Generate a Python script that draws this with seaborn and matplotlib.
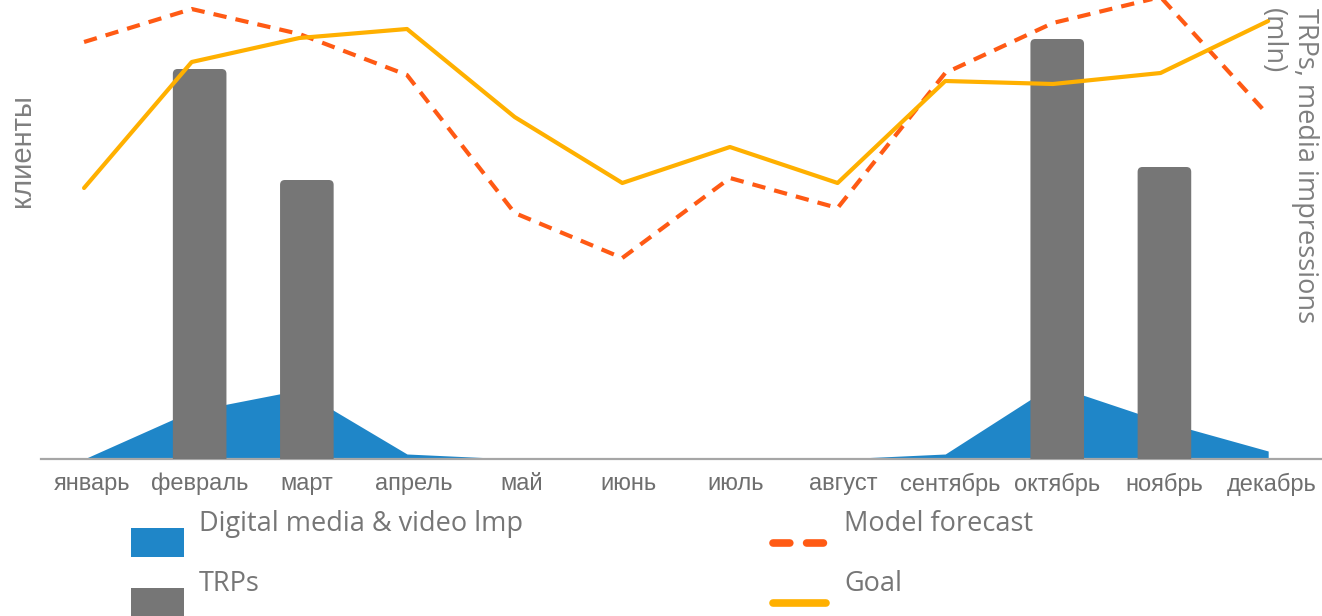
import numpy as np
import pandas as pd
import matplotlib
matplotlib.use("Agg")
import matplotlib.pyplot as plt
from matplotlib.patches import Rectangle, FancyBboxPatch
from matplotlib.lines import Line2D
import seaborn as sns

# ---------------- data ----------------
months = ["январь", "февраль", "март", "апрель", "май", "июнь",
          "июль", "август", "сентябрь", "октябрь", "ноябрь", "декабрь"]
goal = [271, 397, 421, 430, 342, 276, 312, 276, 378, 375, 386, 438]
model_forecast = [417, 450, 425, 384, 246, 201, 281, 251, 386, 436, 462, 344]
trps = [0, 390, 279, 0, 0, 0, 0, 0, 0, 420, 292, 0]
digital_imp = [0, 48, 69, 5, 0, 0, 0, 0, 5, 74, 38, 8]

legend_labels = ["Digital media & video lmp", "TRPs", "Model forecast", "Goal"]
left_label = "клиенты"
right_label = "TRPs, media impressions\n(mln)"

# ---------------- style ----------------
C_BLUE = "#1F86C8"
C_GRAY = "#767676"
C_ORANGE = "#FF5A14"
C_YELLOW = "#FFB000"
C_TEXT = "#7F7F7F"
C_TICK = "#6F6F6F"

sns.set_theme(style="white")
plt.rcParams["font.family"] = ["Liberation Sans", "DejaVu Sans"]

W, H = 1322, 616
fig = plt.figure(figsize=(W / 100, H / 100), dpi=100)


def fx(x):
    return x / W


def fy(y):
    return 1 - y / H


rect = [fx(41), fy(459), (W - 41) / W, 459 / H]
ax_area = fig.add_axes(rect)
ax_bar = fig.add_axes(rect)
ax_line = fig.add_axes(rect)

df = pd.DataFrame({"month": months, "trps": trps, "digital": digital_imp,
                   "goal": goal, "forecast": model_forecast})
xpos = np.arange(len(months))

LINE_XLIM = (-0.4, 11.5)
BAR_XLIM = (-0.48, 11.47)

# area (media impressions)
ax_area.fill_between(xpos, 0, df["digital"], color=C_BLUE, lw=0)
ax_area.set_xlim(*LINE_XLIM)
ax_area.set_ylim(0, 459)
ax_area.set_xticks([])
ax_area.set_yticks([])
for s in ["top", "left", "right"]:
    ax_area.spines[s].set_visible(False)
ax_area.spines["bottom"].set_color("#A6A6A6")
ax_area.spines["bottom"].set_linewidth(1.6)

# bars (TRPs) with slightly rounded tops
sns.barplot(data=df, x="month", y="trps", color=C_GRAY, width=0.5,
            saturation=1, ax=ax_bar, linewidth=0)
ax_bar.set_xlim(*BAR_XLIM)
ax_bar.set_ylim(0, 459)
ax_bar.patch.set_alpha(0)
px_per_x = (W - 41) / (BAR_XLIM[1] - BAR_XLIM[0])
for p in list(ax_bar.patches):
    h = p.get_height()
    if h <= 0:
        p.remove()
        continue
    x0, w = p.get_x(), p.get_width()
    p.remove()
    ax_bar.add_patch(FancyBboxPatch((x0, -8), w, h + 8,
                                    boxstyle="round,pad=0,rounding_size=0.045",
                                    mutation_aspect=px_per_x,
                                    fc=C_GRAY, ec="none", lw=0))
ax_bar.set_xlabel("")
ax_bar.set_ylabel("")
ax_bar.set_yticks([])
ax_bar.set_xticks(xpos)
ax_bar.set_xticklabels(months, fontsize=17, color=C_TICK)
ax_bar.tick_params(axis="x", length=0, pad=10)
for s in ax_bar.spines.values():
    s.set_visible(False)

# lines (клиенты)
sns.lineplot(x=xpos, y=df["forecast"], ax=ax_line, color=C_ORANGE, lw=3)
ax_line.lines[-1].set_dashes((3.2, 2.2))
sns.lineplot(x=xpos, y=df["goal"], ax=ax_line, color=C_YELLOW, lw=3)
ax_line.set_xlim(*LINE_XLIM)
ax_line.set_ylim(0, 459)
ax_line.patch.set_alpha(0)
ax_line.set_xticks([])
ax_line.set_yticks([])
ax_line.set_ylabel("")
ax_line.set_xlabel("")
for s in ax_line.spines.values():
    s.set_visible(False)

# axis titles
fig.text(fx(22), fy(151), left_label, rotation=90, ha="center", va="center",
         fontsize=21, color=C_TEXT)
fig.text(fx(1319), fy(8), right_label, rotation=270, ha="right", va="top",
         multialignment="left", linespacing=1.2, fontsize=19.5, color=C_TEXT,
         family=["Open Sans", "DejaVu Sans"])

# legend (manual, two columns, label above marker)
fig.add_artist(Rectangle((fx(131), fy(557)), 53 / W, 29 / H,
                         transform=fig.transFigure, color=C_BLUE, lw=0))
fig.add_artist(Rectangle((fx(131), fy(616)), 53 / W, 28 / H,
                         transform=fig.transFigure, color=C_GRAY, lw=0))
l1 = Line2D([fx(773), fx(826)], [fy(543), fy(543)], transform=fig.transFigure,
            color=C_ORANGE, lw=5.5)
l1.set_dashes((2.2, 2.2))
l1.set_dash_capstyle("round")
fig.add_artist(l1)
fig.add_artist(Line2D([fx(773), fx(826)], [fy(603), fy(603)],
                      transform=fig.transFigure, color=C_YELLOW, lw=5.5,
                      solid_capstyle="round"))
lfont = dict(fontsize=19.5, color=C_GRAY, va="baseline", ha="left",
             family=["Open Sans", "DejaVu Sans"])
fig.text(fx(199), fy(531), legend_labels[0], **lfont)
fig.text(fx(199), fy(591), legend_labels[1], **lfont)
fig.text(fx(844), fy(531), legend_labels[2], **lfont)
fig.text(fx(844), fy(591), legend_labels[3], **lfont)

fig.savefig("out.png", dpi=100)
